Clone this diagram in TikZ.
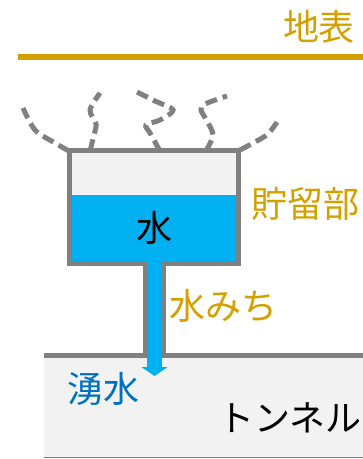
\documentclass[tikz,border=0pt]{standalone}
\usepackage{fontspec}
\setmainfont{Noto Sans CJK JP}
\usetikzlibrary{arrows.meta}
\definecolor{gold}{RGB}{212,160,0}
\definecolor{wallgray}{RGB}{128,128,128}
\definecolor{paper}{RGB}{242,242,242}
\definecolor{water}{RGB}{0,176,240}
\definecolor{spring}{RGB}{0,112,192}
\tikzset{
    label/.style={inner sep=0pt, font=\fontsize{36}{40}\selectfont},
    vapour/.style={wallgray, line width=5pt, dash pattern=on 12pt off 6pt, line cap=butt},
}
\begin{document}
\begin{tikzpicture}[x=1pt, y=-1pt]
    \useasboundingbox (0,0) rectangle (363,459);
    % Ground surface
    \coordinate (g1) at (18,57);
    \coordinate (g2) at (363,57);
    \draw[gold, line width=6pt] (g1) -- (g2);
    \node[label, text=gold] (surface) at (319,27) {地表};
    % Tunnel
    \fill[paper] (44,356) rectangle (363,458);
    \draw[wallgray, line width=1pt] (44,457.5) -- (363,457.5);
    \draw[wallgray, line width=5pt] (44,355.5) -- (363,355.5);
    % Storage and its water
    \fill[paper] (69.5,150.5) rectangle (238.5,195);
    \fill[water] (69.5,195) rectangle (238.5,263.5);
    \draw[wallgray, line width=5pt] (69.5,150.5) rectangle (238.5,263.5);
    \node[label] (tank) at (154.5,228) {水};
    \node[label, text=gold, anchor=west] (storage) at (251,203.5) {貯留部};
    % Water path down to the tunnel
    \coordinate (top) at (154.5,262);
    \coordinate (out) at (154.5,376);
    \draw[wallgray, line width=23pt] (154.5,266) -- (154.5,356);
    \draw[water, line width=15pt, -{Triangle[width=26pt, length=9pt]}] (top) -- (out);
    \node[label, text=gold, anchor=west] (path) at (169,306) {水みち};
    \node[label, text=spring] (inflow) at (103,389) {湧水};
    \node[label] (tunnel) at (290,418) {トンネル};
    % Evaporation
    \draw[vapour] plot[smooth] coordinates {(69,151) (55,143) (35,130) (23,108)};
    \draw[vapour] plot[smooth] coordinates {(90,151) (94,135) (96,124) (90,110) (100,93)};
    \draw[vapour] plot[smooth] coordinates {(160,151) (150,133) (146,125) (160,120) (173,110) (155,101) (137,92)};
    \draw[vapour] plot[smooth] coordinates {(206,151) (213,135) (207,121) (201,110) (205,104) (227,96)};
    \draw[vapour] plot[smooth] coordinates {(240,150) (255,142) (268,134) (277,122)};
\end{tikzpicture}
\end{document}
